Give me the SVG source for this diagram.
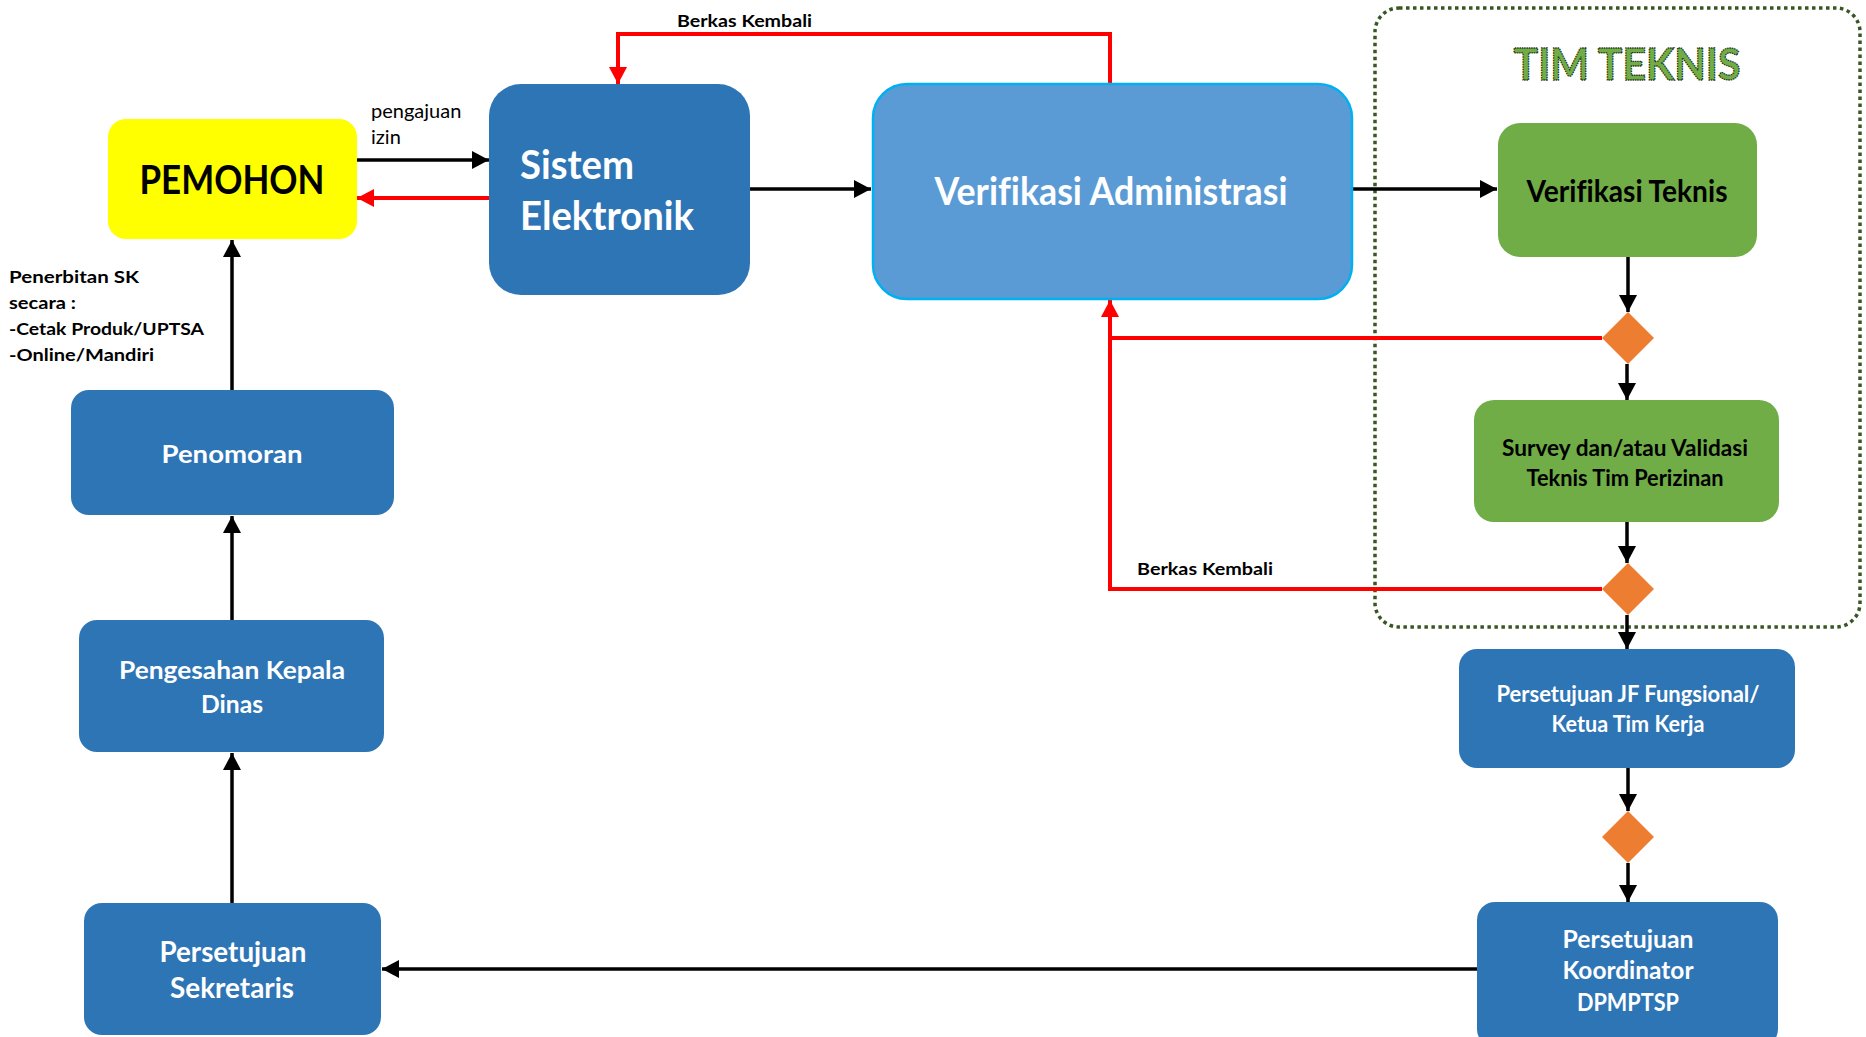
<svg xmlns="http://www.w3.org/2000/svg" width="1866" height="1037" viewBox="0 0 1866 1037">
<style>
  .box-blue { fill: #2E75B6; }
  .box-green { fill: #70AD47; }
  .dia { fill: #ED7D31; }
  text { font-variant-ligatures: none; }
  .t { font-family: Lato, "Liberation Sans", sans-serif; font-weight: bold; }
  .tw { fill: #FFFFFF; }
  .tb { fill: #000000; }
  .lbl { font-family: Lato, "Liberation Sans", sans-serif; fill: #000000; }
  .blk { stroke: #000000; stroke-width: 3.5; fill: none; }
  .red { stroke: #FF0000; stroke-width: 4; fill: none; }
</style>
<defs>
  <marker id="ab" markerUnits="userSpaceOnUse" markerWidth="18" markerHeight="18" refX="17" refY="9" orient="auto">
    <path d="M0,0 L17,9 L0,18 z" fill="#000000"/>
  </marker>
  <marker id="ar" markerUnits="userSpaceOnUse" markerWidth="18" markerHeight="18" refX="17" refY="9" orient="auto">
    <path d="M0,0 L17,9 L0,18 z" fill="#FF0000"/>
  </marker>
</defs>
<rect width="1866" height="1037" fill="#FFFFFF"/>

<g id="tim-teknis">
  <rect x="1375" y="8" width="485" height="619" rx="24" fill="none" stroke="#385723" stroke-width="3.5" stroke-dasharray="3.5 3.5"/>
  <text x="1627" y="80" text-anchor="middle" class="t" font-size="44" fill="#70AD47" stroke="#1E2E14" stroke-width="1.3" stroke-dasharray="1.5 1" textLength="227" lengthAdjust="spacingAndGlyphs">TIM TEKNIS</text>
</g>

<g id="connectors">
  <path class="blk" d="M357,160 L489,160" marker-end="url(#ab)"/>
  <path class="red" d="M489,198 L357,198" marker-end="url(#ar)"/>
  <path class="blk" d="M750,189 L871,189" marker-end="url(#ab)"/>
  <path class="blk" d="M1352,189 L1497,189" marker-end="url(#ab)"/>
  <path class="red" d="M1110,83 V34 H618 V84" marker-end="url(#ar)"/>
  <path class="blk" d="M1628,257 V312" marker-end="url(#ab)"/>
  <path class="blk" d="M1627,364 V400" marker-end="url(#ab)"/>
  <path class="red" d="M1602,338 H1110 V300" marker-end="url(#ar)"/>
  <path class="blk" d="M1627,522 V563" marker-end="url(#ab)"/>
  <path class="red" d="M1602,589 H1110 V338"/>
  <path class="blk" d="M1627,615 V649" marker-end="url(#ab)"/>
  <path class="blk" d="M1628,768 V811" marker-end="url(#ab)"/>
  <path class="blk" d="M1628,863 V902" marker-end="url(#ab)"/>
  <path class="blk" d="M1477,969 H382" marker-end="url(#ab)"/>
  <path class="blk" d="M232,903 V753" marker-end="url(#ab)"/>
  <path class="blk" d="M232,620 V516" marker-end="url(#ab)"/>
  <path class="blk" d="M232,390 V240" marker-end="url(#ab)"/>
  <text class="lbl" font-size="20" x="371" y="118">pengajuan</text>
  <text class="lbl" font-size="20" x="371" y="144">izin</text>
  <text class="lbl" font-size="17" font-weight="bold" x="677" y="27" textLength="135" lengthAdjust="spacingAndGlyphs">Berkas Kembali</text>
  <text class="lbl" font-size="17" font-weight="bold" x="1137" y="575" textLength="136" lengthAdjust="spacingAndGlyphs">Berkas Kembali</text>
  <text class="lbl" font-size="17" font-weight="bold" x="9" y="283" textLength="130" lengthAdjust="spacingAndGlyphs">Penerbitan SK</text>
  <text class="lbl" font-size="17" font-weight="bold" x="9" y="309" textLength="67" lengthAdjust="spacingAndGlyphs">secara :</text>
  <text class="lbl" font-size="17" font-weight="bold" x="9" y="335" textLength="195" lengthAdjust="spacingAndGlyphs">-Cetak Produk/UPTSA</text>
  <text class="lbl" font-size="17" font-weight="bold" x="9" y="361" textLength="145" lengthAdjust="spacingAndGlyphs">-Online/Mandiri</text>
</g>

<g id="pemohon">
  <rect x="108" y="119" width="249" height="120" rx="18" fill="#FFFF00"/>
  <text x="232" y="194" text-anchor="middle" class="t tb" font-size="40" textLength="185" lengthAdjust="spacingAndGlyphs">PEMOHON</text>
</g>

<g id="sistem-elektronik">
  <rect x="489" y="84" width="261" height="211" rx="32" class="box-blue"/>
  <text x="520" y="179" class="t tw" font-size="40" textLength="114" lengthAdjust="spacingAndGlyphs">Sistem</text>
  <text x="520" y="230" class="t tw" font-size="40" textLength="174" lengthAdjust="spacingAndGlyphs">Elektronik</text>
</g>

<g id="verifikasi-administrasi">
  <rect x="873" y="84" width="479" height="215" rx="34" fill="#5B9BD5" stroke="#00B0F0" stroke-width="2.5"/>
  <text x="1111" y="205" text-anchor="middle" class="t tw" font-size="39" textLength="353" lengthAdjust="spacingAndGlyphs">Verifikasi Administrasi</text>
</g>

<g id="verifikasi-teknis">
  <rect x="1498" y="123" width="259" height="134" rx="22" class="box-green"/>
  <text x="1627" y="202" text-anchor="middle" class="t tb" font-size="31" textLength="201" lengthAdjust="spacingAndGlyphs">Verifikasi Teknis</text>
</g>

<g id="keputusan-1">
  <polygon points="1628,312 1654,338 1628,364 1602,338" class="dia"/>
</g>

<g id="survey-validasi">
  <rect x="1474" y="400" width="305" height="122" rx="20" class="box-green"/>
  <text x="1625" y="456" text-anchor="middle" class="t tb" font-size="23" textLength="246" lengthAdjust="spacingAndGlyphs">Survey dan/atau Validasi</text>
  <text x="1625" y="486" text-anchor="middle" class="t tb" font-size="23" textLength="197" lengthAdjust="spacingAndGlyphs">Teknis Tim Perizinan</text>
</g>

<g id="keputusan-2">
  <polygon points="1628,563 1654,589 1628,615 1602,589" class="dia"/>
</g>

<g id="persetujuan-jf">
  <rect x="1459" y="649" width="336" height="119" rx="18" class="box-blue"/>
  <text x="1628" y="702" text-anchor="middle" class="t tw" font-size="23" textLength="263" lengthAdjust="spacingAndGlyphs">Persetujuan JF Fungsional/</text>
  <text x="1628" y="732" text-anchor="middle" class="t tw" font-size="23" textLength="153" lengthAdjust="spacingAndGlyphs">Ketua Tim Kerja</text>
</g>

<g id="keputusan-3">
  <polygon points="1628,811 1654,837 1628,863 1602,837" class="dia"/>
</g>

<g id="persetujuan-koordinator">
  <rect x="1477" y="902" width="301" height="145" rx="18" class="box-blue"/>
  <text x="1628" y="948" text-anchor="middle" class="t tw" font-size="25" textLength="131" lengthAdjust="spacingAndGlyphs">Persetujuan</text>
  <text x="1628" y="979" text-anchor="middle" class="t tw" font-size="25" textLength="131" lengthAdjust="spacingAndGlyphs">Koordinator</text>
  <text x="1628" y="1011" text-anchor="middle" class="t tw" font-size="25" textLength="102" lengthAdjust="spacingAndGlyphs">DPMPTSP</text>
</g>

<g id="persetujuan-sekretaris">
  <rect x="84" y="903" width="297" height="132" rx="18" class="box-blue"/>
  <text x="233" y="962" text-anchor="middle" class="t tw" font-size="28" textLength="147" lengthAdjust="spacingAndGlyphs">Persetujuan</text>
  <text x="232" y="998" text-anchor="middle" class="t tw" font-size="28" textLength="124" lengthAdjust="spacingAndGlyphs">Sekretaris</text>
</g>

<g id="pengesahan-kepala-dinas">
  <rect x="79" y="620" width="305" height="132" rx="18" class="box-blue"/>
  <text x="232" y="679" text-anchor="middle" class="t tw" font-size="25" textLength="226" lengthAdjust="spacingAndGlyphs">Pengesahan Kepala</text>
  <text x="232" y="713" text-anchor="middle" class="t tw" font-size="25" textLength="62" lengthAdjust="spacingAndGlyphs">Dinas</text>
</g>

<g id="penomoran">
  <rect x="71" y="390" width="323" height="125" rx="18" class="box-blue"/>
  <text x="232" y="463" text-anchor="middle" class="t tw" font-size="25" textLength="141" lengthAdjust="spacingAndGlyphs">Penomoran</text>
</g>
</svg>
